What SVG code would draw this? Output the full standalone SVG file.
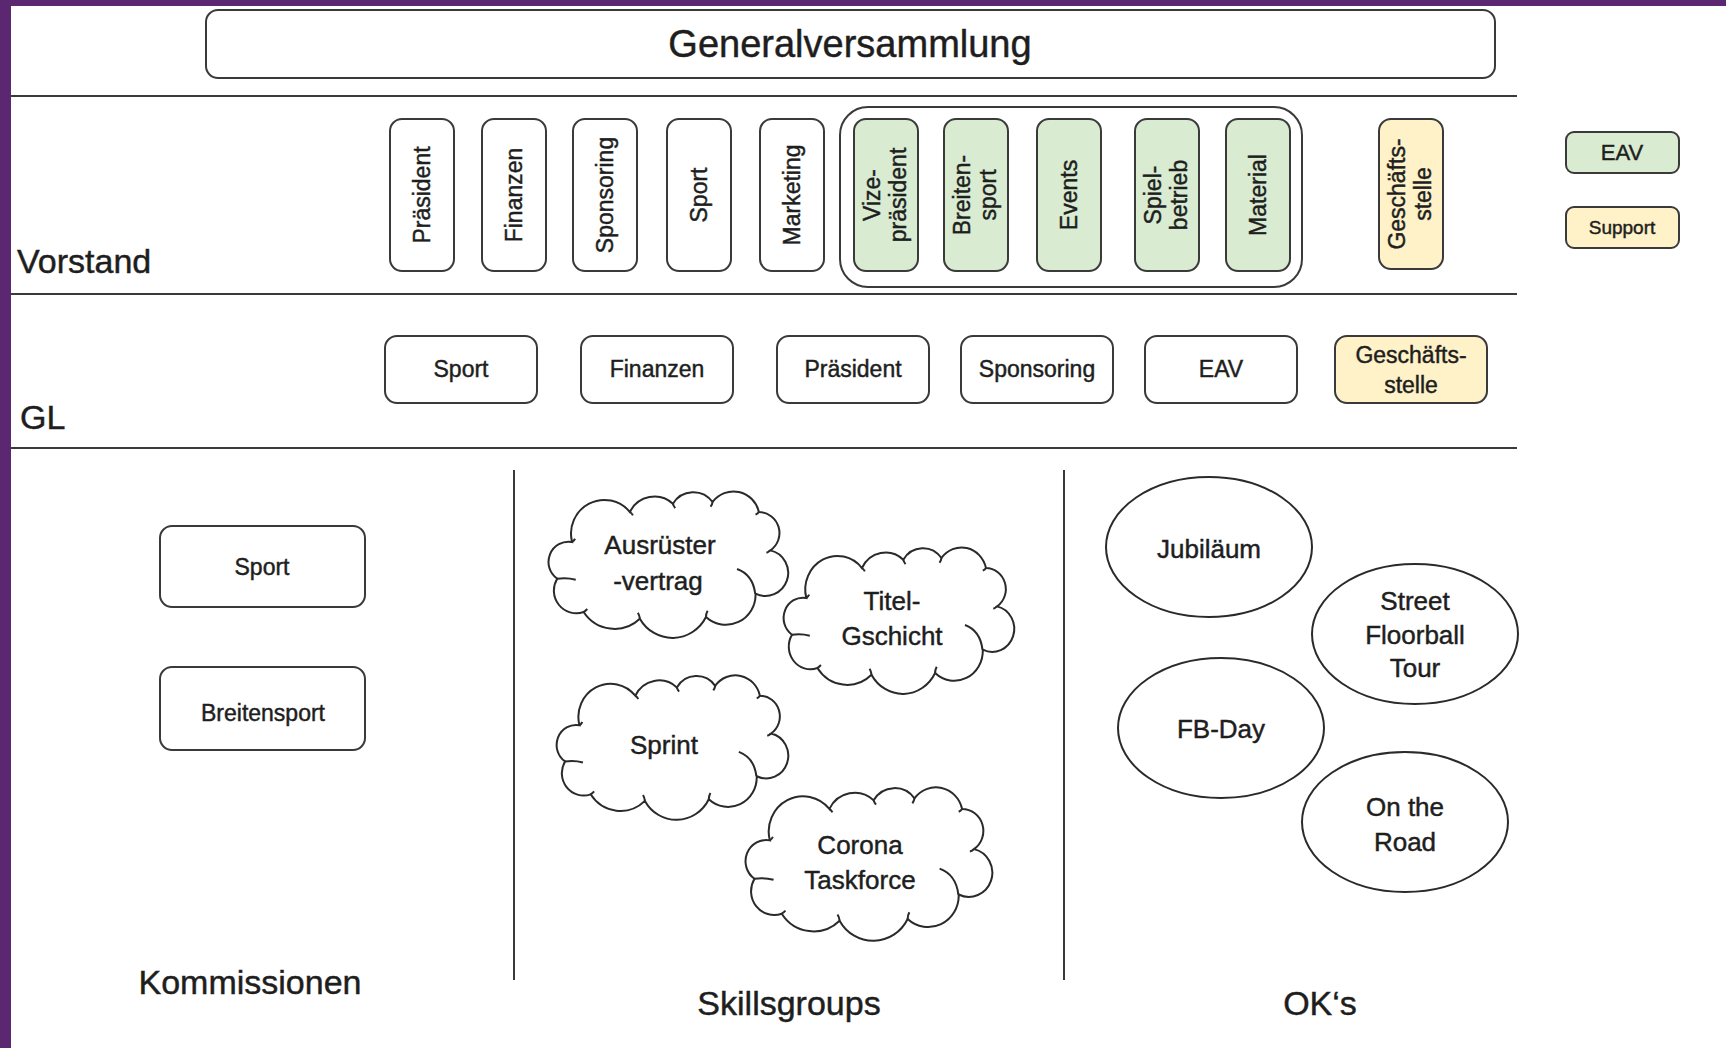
<svg xmlns="http://www.w3.org/2000/svg" xmlns:xlink="http://www.w3.org/1999/xlink" width="1726" height="1048" viewBox="0 0 1726 1048">
<style>
text{font-family:"Liberation Sans",Arial,sans-serif;fill:#1e1e1e;stroke:#1e1e1e;stroke-width:0.45px}
.box{fill:#fff;stroke:#3a3a3a;stroke-width:2}
.green{fill:#d9ecd2;stroke:#3a3a3a;stroke-width:2}
.yellow{fill:#fff1c8;stroke:#3a3a3a;stroke-width:2}
.line{stroke:#3a3a3a;stroke-width:2;fill:none}
.cloud{fill:#fff;stroke:#2a2a2a;stroke-width:2;vector-effect:non-scaling-stroke}
.crease{fill:none;stroke:#2a2a2a;stroke-width:2;vector-effect:non-scaling-stroke}
.ell{fill:#fff;stroke:#2a2a2a;stroke-width:2}
.vl{font-size:23px}
.hl{font-size:23px}
.cl{font-size:26px}
.sec{font-size:34px}
</style>
<defs>
<g id="cloudShape">
<path class="cloud" d="M50 300 A60.8 60.8 0 0 1 95 190 A100.8 100.8 0 0 1 270 100 A82.9 82.9 0 0 1 400 75 A72.3 72.3 0 0 1 520 70 A78.7 78.7 0 0 1 660 100 A63 63 0 0 1 695 215 A69.2 69.2 0 1 1 650 345 A89.8 89.8 0 0 1 500 415 A113.3 113.3 0 0 1 300 420 A111.6 111.6 0 0 1 130 400 A68 68 0 0 1 50 300 Z"/>
<path class="crease" d="M50 300 Q80 296 106 303 M95 190 Q101 186 104 180 M270 100 Q276 104 279 110 M400 75 Q402 82 407 88 M520 70 Q519 77 514 84 M660 100 Q657 105 650 108 M695 215 Q690 220 683 222 M594 271 Q642 288 649 345 M500 415 Q500 405 505 396 M300 420 Q299 410 294 402 M130 400 Q136 396 141 391"/>
</g>
</defs>
<rect x="0" y="0" width="1726" height="1048" fill="#fff"/>
<rect x="0" y="0" width="1726" height="6" fill="#5b2771"/>
<rect x="0" y="0" width="11" height="1048" fill="#5b2771"/>

<g id="connectors">
<line class="line" x1="11" y1="96" x2="1517" y2="96"/>
<line class="line" x1="11" y1="294" x2="1517" y2="294"/>
<line class="line" x1="11" y1="448" x2="1517" y2="448"/>
<line class="line" x1="514" y1="470" x2="514" y2="980"/>
<line class="line" x1="1064" y1="470" x2="1064" y2="980"/>
</g>

<g id="labels">
<text class="sec" x="17" y="273">Vorstand</text>
<text class="sec" x="20" y="429">GL</text>
<text class="sec" x="250" y="994" text-anchor="middle">Kommissionen</text>
<text class="sec" x="789" y="1015" text-anchor="middle">Skillsgroups</text>
<text class="sec" x="1320" y="1015" text-anchor="middle">OK‘s</text>
</g>

<g id="generalversammlung">
<rect class="box" x="206" y="10" width="1289" height="68" rx="12"/>
<text x="850" y="44" dy="0.35em" text-anchor="middle" font-size="38">Generalversammlung</text>
</g>

<g id="vorstand">
<g id="v-praesident"><rect class="box" x="390" y="119" width="64" height="152" rx="12"/><text class="vl" transform="translate(422,195) rotate(-90)" dy="0.35em" text-anchor="middle">Präsident</text></g>
<g id="v-finanzen"><rect class="box" x="482" y="119" width="64" height="152" rx="12"/><text class="vl" transform="translate(514,195) rotate(-90)" dy="0.35em" text-anchor="middle">Finanzen</text></g>
<g id="v-sponsoring"><rect class="box" x="573" y="119" width="64" height="152" rx="12"/><text class="vl" transform="translate(605,195) rotate(-90)" dy="0.35em" text-anchor="middle" font-size="20">Sponsoring</text></g>
<g id="v-sport"><rect class="box" x="667" y="119" width="64" height="152" rx="12"/><text class="vl" transform="translate(699,195) rotate(-90)" dy="0.35em" text-anchor="middle">Sport</text></g>
<g id="v-marketing"><rect class="box" x="760" y="119" width="64" height="152" rx="12"/><text class="vl" transform="translate(792,195) rotate(-90)" dy="0.35em" text-anchor="middle">Marketing</text></g>
<g id="eav-group">
<rect class="box" x="840" y="107" width="462" height="180" rx="28"/>
<g id="v-vize"><rect class="green" x="854" y="119" width="64" height="152" rx="12"/><text class="vl" transform="translate(886,195) rotate(-90)" text-anchor="middle"><tspan x="0" dy="-0.25em">Vize-</tspan><tspan x="0" dy="1.1em">präsident</tspan></text></g>
<g id="v-breitensport"><rect class="green" x="944" y="119" width="64" height="152" rx="12"/><text class="vl" transform="translate(976,195) rotate(-90)" text-anchor="middle"><tspan x="0" dy="-0.25em">Breiten-</tspan><tspan x="0" dy="1.1em">sport</tspan></text></g>
<g id="v-events"><rect class="green" x="1037" y="119" width="64" height="152" rx="12"/><text class="vl" transform="translate(1069,195) rotate(-90)" dy="0.35em" text-anchor="middle">Events</text></g>
<g id="v-spielbetrieb"><rect class="green" x="1135" y="119" width="64" height="152" rx="12"/><text class="vl" transform="translate(1167,195) rotate(-90)" text-anchor="middle"><tspan x="0" dy="-0.25em">Spiel-</tspan><tspan x="0" dy="1.1em">betrieb</tspan></text></g>
<g id="v-material"><rect class="green" x="1226" y="119" width="64" height="152" rx="12"/><text class="vl" transform="translate(1258,195) rotate(-90)" dy="0.35em" text-anchor="middle">Material</text></g>
</g>
<g id="v-geschaeftsstelle"><rect class="yellow" x="1379" y="119" width="64" height="150" rx="12"/><text class="vl" transform="translate(1411,194) rotate(-90)" text-anchor="middle"><tspan x="0" dy="-0.25em">Geschäfts-</tspan><tspan x="0" dy="1.1em">stelle</tspan></text></g>
</g>

<g id="legend">
<g id="legend-eav"><rect class="green" x="1566" y="132" width="113" height="41" rx="8"/><text x="1622" y="152" dy="0.35em" text-anchor="middle" font-size="22">EAV</text></g>
<g id="legend-support"><rect class="yellow" x="1566" y="207" width="113" height="41" rx="8"/><text x="1622" y="227" dy="0.35em" text-anchor="middle" font-size="19">Support</text></g>
</g>

<g id="gl">
<g id="gl-sport"><rect class="box" x="385" y="336" width="152" height="67" rx="12"/><text class="hl" x="461" y="369" dy="0.35em" text-anchor="middle">Sport</text></g>
<g id="gl-finanzen"><rect class="box" x="581" y="336" width="152" height="67" rx="12"/><text class="hl" x="657" y="369" dy="0.35em" text-anchor="middle">Finanzen</text></g>
<g id="gl-praesident"><rect class="box" x="777" y="336" width="152" height="67" rx="12"/><text class="hl" x="853" y="369" dy="0.35em" text-anchor="middle">Präsident</text></g>
<g id="gl-sponsoring"><rect class="box" x="961" y="336" width="152" height="67" rx="12"/><text class="hl" x="1037" y="369" dy="0.35em" text-anchor="middle" font-size="21">Sponsoring</text></g>
<g id="gl-eav"><rect class="box" x="1145" y="336" width="152" height="67" rx="12"/><text class="hl" x="1221" y="369" dy="0.35em" text-anchor="middle">EAV</text></g>
<g id="gl-geschaeftsstelle"><rect class="yellow" x="1335" y="336" width="152" height="67" rx="12"/><text class="hl" x="1411" y="369" text-anchor="middle"><tspan x="1411" dy="-0.25em">Geschäfts-</tspan><tspan x="1411" dy="1.3em">stelle</tspan></text></g>
</g>

<g id="kommissionen">
<g id="k-sport"><rect class="box" x="160" y="526" width="205" height="81" rx="12"/><text class="hl" x="262" y="567" dy="0.35em" text-anchor="middle">Sport</text></g>
<g id="k-breitensport"><rect class="box" x="160" y="667" width="205" height="83" rx="12"/><text class="hl" x="263" y="713" dy="0.35em" text-anchor="middle">Breitensport</text></g>
</g>

<g id="skillsgroups">
<g id="s-ausruester"><use xlink:href="#cloudShape" transform="translate(540.7,478.7) scale(0.3305,0.3333)"/><text class="cl" x="660" y="545" dy="0.35em" text-anchor="middle">Ausrüster</text><text class="cl" x="658" y="581" dy="0.35em" text-anchor="middle">-vertrag</text></g>
<g id="s-titel"><use xlink:href="#cloudShape" transform="translate(776.1,534.7) scale(0.318,0.3333)"/><text class="cl" x="892" y="601" dy="0.35em" text-anchor="middle">Titel-</text><text class="cl" x="892" y="636" dy="0.35em" text-anchor="middle">Gschicht</text></g>
<g id="s-sprint"><use xlink:href="#cloudShape" transform="translate(549.1,662.8) scale(0.3194,0.3288)"/><text class="cl" x="664" y="745" dy="0.35em" text-anchor="middle">Sprint</text></g>
<g id="s-corona"><use xlink:href="#cloudShape" transform="translate(737.5,774) scale(0.3403,0.3493)"/><text class="cl" x="860" y="845" dy="0.35em" text-anchor="middle">Corona</text><text class="cl" x="860" y="880" dy="0.35em" text-anchor="middle">Taskforce</text></g>
</g>

<g id="oks">
<g id="o-jubilaeum"><ellipse class="ell" cx="1209" cy="547" rx="103" ry="70"/><text class="cl" x="1209" y="549" dy="0.35em" text-anchor="middle">Jubiläum</text></g>
<g id="o-street"><ellipse class="ell" cx="1415" cy="634" rx="103" ry="70"/><text class="cl" x="1415" y="601" dy="0.35em" text-anchor="middle">Street</text><text class="cl" x="1415" y="635" dy="0.35em" text-anchor="middle">Floorball</text><text class="cl" x="1415" y="668" dy="0.35em" text-anchor="middle">Tour</text></g>
<g id="o-fbday"><ellipse class="ell" cx="1221" cy="728" rx="103" ry="70"/><text class="cl" x="1221" y="729" dy="0.35em" text-anchor="middle">FB-Day</text></g>
<g id="o-road"><ellipse class="ell" cx="1405" cy="822" rx="103" ry="70"/><text class="cl" x="1405" y="807" dy="0.35em" text-anchor="middle">On the</text><text class="cl" x="1405" y="842" dy="0.35em" text-anchor="middle">Road</text></g>
</g>
</svg>
